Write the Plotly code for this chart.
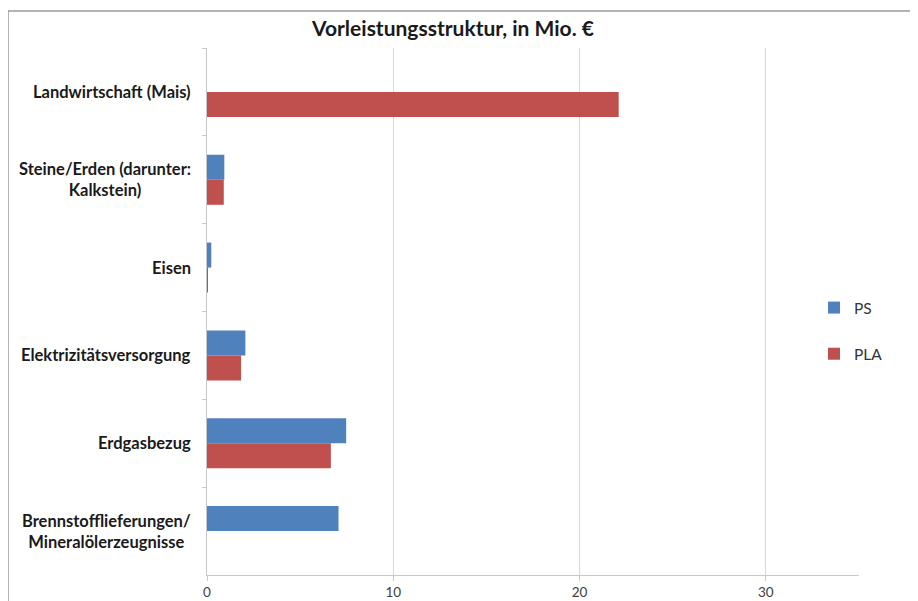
import plotly.graph_objects as go

categories = [
    "Landwirtschaft (Mais)",
    "Steine/Erden (darunter:<br>Kalkstein)",
    "Eisen",
    "Elektrizitätsversorgung",
    "Erdgasbezug",
    "Brennstofflieferungen/<br>Mineralölerzeugnisse",
]
ps_values = [0, 0.93, 0.23, 2.06, 7.47, 7.06]
pla_values = [22.1, 0.9, 0.05, 1.83, 6.65, 0]
x_ticks = [0, 10, 20, 30]

# page has an 8px body margin: work in figure coords = reference coords - 8
OFF = 8
W, H = 918 - OFF, 601 - OFF
L, T = 207 - OFF, 48 - OFF
PR, PB = 859 - OFF, 575 - OFF
R, B = W - PR, H - PB
pw, ph = W - L - R, H - T - B

def px_x(x):
    return (x - OFF - L) / pw

def px_y(y):
    return 1 - (y - OFF - T) / ph

fig = go.Figure()
fig.add_trace(go.Bar(y=categories, x=ps_values, orientation="h", name="PS",
                     marker=dict(color="#4F81BD", line=dict(width=0)),
                     legendgroup="ps"))
fig.add_trace(go.Bar(y=categories, x=pla_values, orientation="h", name="PLA",
                     marker=dict(color="#C0504D", line=dict(width=0)),
                     legendgroup="pla"))

for c in categories:
    fig.add_annotation(x=0, xref="paper", y=c, yref="y", text=c, showarrow=False,
                       xanchor="right", align="center", xshift=-14,
                       font=dict(family="Lato", size=16.5, color="#1a1a1a", weight="bold"))

# outer chart frame (left and top edges)
fig.add_shape(type="line", xref="paper", yref="paper",
              x0=px_x(8), x1=px_x(8), y0=px_y(11), y1=px_y(700),
              line=dict(color="#9a9a9a", width=1.5))
fig.add_shape(type="line", xref="paper", yref="paper",
              x0=px_x(8), x1=px_x(930), y0=px_y(11), y1=px_y(11),
              line=dict(color="#9a9a9a", width=1.5))

fig.update_layout(
    width=W, height=H,
    margin=dict(l=L, r=R, t=T, b=B),
    paper_bgcolor="white", plot_bgcolor="white",
    barmode="group", bargap=0.43, bargroupgap=0,
    title=dict(text="<b>Vorleistungsstruktur, in Mio. €</b>", x=(453 - OFF) / W, xanchor="center",
               y=1 - (29 - OFF) / H, yanchor="middle",
               font=dict(family="Lato", size=21, color="#1a1a1a")),
    font=dict(family="Lato", color="#404040"),
    legend=dict(x=px_x(814), xanchor="left", y=px_y(291), yanchor="top",
                traceorder="grouped", tracegroupgap=23,
                font=dict(family="Lato", size=15.5, color="#333333"),
                bgcolor="rgba(0,0,0,0)"),
    xaxis=dict(range=[0, 35], tickvals=x_ticks, showgrid=True, gridcolor="#d9d9d9",
               gridwidth=1, zeroline=False, showline=True, linecolor="#c8c8c8",
               ticks="outside", ticklen=5, tickcolor="#c8c8c8", automargin=False,
               tickfont=dict(family="Lato", size=13.5, color="#404040")),
    yaxis=dict(autorange="reversed", showticklabels=False, showline=True,
               linecolor="#c8c8c8", ticks="outside", ticklen=4, tickcolor="#c8c8c8",
               tickson="boundaries", showgrid=False, zeroline=False, automargin=False),
)

fig.write_html("out.html")
